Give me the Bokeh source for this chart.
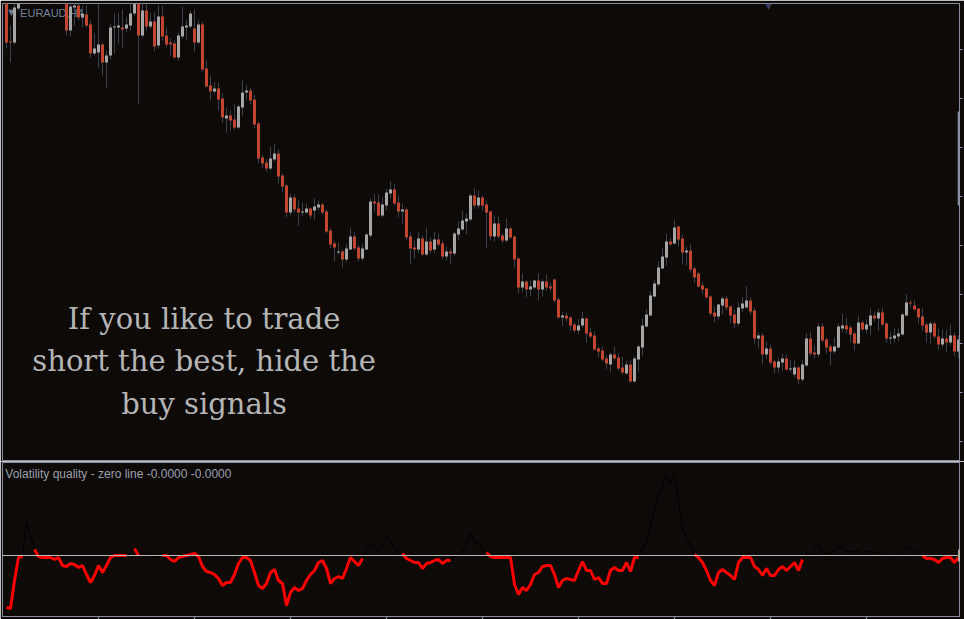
import math
from bokeh.plotting import figure
from bokeh.layouts import column
from bokeh.models import (ColumnDataSource, Range1d, Span, Label, FixedTicker,
                          LinearAxis, BoxAnnotation)
from bokeh.embed import file_html
from bokeh.resources import INLINE

# ---------------- data (EURAUD H4) ----------------
open_ = [
    1.6505, 1.6459, 1.6458, 1.6492, 1.6508, 1.6520, 1.6512, 1.6530, 1.6525, 1.6540,
    1.6530, 1.6518, 1.6528, 1.6515, 1.6522, 1.6505, 1.6470, 1.6493, 1.6495, 1.6483,
    1.6486, 1.6476, 1.6447, 1.6448, 1.6456, 1.6438, 1.6445, 1.6473, 1.6473, 1.6473,
    1.6472, 1.6475, 1.6487, 1.6502, 1.6465, 1.6490, 1.6474, 1.6479, 1.6455, 1.6484,
    1.6465, 1.6458, 1.6457, 1.6443, 1.6464, 1.6473, 1.6474, 1.6472, 1.6458, 1.6476,
    1.6432, 1.6415, 1.6409, 1.6412, 1.6402, 1.6382, 1.6385, 1.6381, 1.6373, 1.6393,
    1.6408, 1.6410, 1.6401, 1.6377, 1.6343, 1.6338, 1.6332, 1.6341, 1.6347, 1.6325,
    1.6315, 1.6288, 1.6303, 1.6292, 1.6288, 1.6288, 1.6292, 1.6290, 1.6293, 1.6296,
    1.6289, 1.6270, 1.6257, 1.6248, 1.6249, 1.6241, 1.6251, 1.6264, 1.6253, 1.6242,
    1.6251, 1.6265, 1.6299, 1.6298, 1.6285, 1.6295, 1.6307, 1.6311, 1.6298, 1.6289,
    1.6291, 1.6264, 1.6253, 1.6251, 1.6262, 1.6246, 1.6259, 1.6251, 1.6261, 1.6257,
    1.6244, 1.6249, 1.6247, 1.6266, 1.6271, 1.6279, 1.6281, 1.6305, 1.6295, 1.6303,
    1.6296, 1.6289, 1.6264, 1.6277, 1.6265, 1.6260, 1.6272, 1.6264, 1.6242, 1.6213,
    1.6219, 1.6211, 1.6213, 1.6220, 1.6211, 1.6219, 1.6214, 1.6221, 1.6201, 1.6183,
    1.6185, 1.6183, 1.6176, 1.6170, 1.6175, 1.6182, 1.6168, 1.6165, 1.6152, 1.6150,
    1.6142, 1.6136, 1.6146, 1.6143, 1.6133, 1.6127, 1.6136, 1.6119, 1.6141, 1.6153,
    1.6174, 1.6185, 1.6204, 1.6216, 1.6232, 1.6243, 1.6259, 1.6257, 1.6274, 1.6262,
    1.6248, 1.6250, 1.6232, 1.6227, 1.6215, 1.6212, 1.6204, 1.6188, 1.6184, 1.6195,
    1.6202, 1.6194, 1.6186, 1.6177, 1.6192, 1.6193, 1.6200, 1.6190, 1.6162, 1.6165,
    1.6146, 1.6152, 1.6139, 1.6133, 1.6138, 1.6142, 1.6131, 1.6126, 1.6133, 1.6121,
    1.6135, 1.6162, 1.6148, 1.6146, 1.6174, 1.6161, 1.6154, 1.6149, 1.6153, 1.6172,
    1.6175, 1.6173, 1.6167, 1.6157, 1.6178, 1.6171, 1.6175, 1.6185, 1.6182, 1.6188,
    1.6177, 1.6162, 1.6162, 1.6164, 1.6166, 1.6185, 1.6198, 1.6195, 1.6192, 1.6184,
    1.6176, 1.6168, 1.6177, 1.6164, 1.6156, 1.6162, 1.6158, 1.6165, 1.6149,
]
high = [
    1.6510, 1.6475, 1.6497, 1.6512, 1.6525, 1.6528, 1.6535, 1.6538, 1.6545, 1.6548,
    1.6534, 1.6532, 1.6533, 1.6526, 1.6526, 1.6508, 1.6502, 1.6500, 1.6498, 1.6495,
    1.6495, 1.6480, 1.6467, 1.6497, 1.6458, 1.6450, 1.6477, 1.6487, 1.6488, 1.6491,
    1.6483, 1.6497, 1.6506, 1.6505, 1.6497, 1.6497, 1.6488, 1.6488, 1.6495, 1.6495,
    1.6473, 1.6462, 1.6460, 1.6468, 1.6494, 1.6480, 1.6490, 1.6491, 1.6481, 1.6479,
    1.6440, 1.6425, 1.6418, 1.6418, 1.6407, 1.6393, 1.6390, 1.6397, 1.6396, 1.6420,
    1.6415, 1.6413, 1.6406, 1.6379, 1.6345, 1.6341, 1.6354, 1.6357, 1.6351, 1.6327,
    1.6317, 1.6307, 1.6306, 1.6300, 1.6298, 1.6297, 1.6293, 1.6302, 1.6300, 1.6298,
    1.6291, 1.6272, 1.6260, 1.6258, 1.6251, 1.6256, 1.6273, 1.6269, 1.6256, 1.6256,
    1.6268, 1.6302, 1.6306, 1.6306, 1.6303, 1.6312, 1.6319, 1.6317, 1.6305, 1.6297,
    1.6293, 1.6269, 1.6260, 1.6268, 1.6265, 1.6273, 1.6263, 1.6269, 1.6267, 1.6260,
    1.6254, 1.6252, 1.6269, 1.6279, 1.6290, 1.6287, 1.6307, 1.6312, 1.6310, 1.6305,
    1.6300, 1.6290, 1.6285, 1.6284, 1.6267, 1.6282, 1.6274, 1.6265, 1.6243, 1.6227,
    1.6220, 1.6220, 1.6221, 1.6227, 1.6221, 1.6226, 1.6217, 1.6222, 1.6203, 1.6189,
    1.6188, 1.6184, 1.6178, 1.6181, 1.6189, 1.6183, 1.6173, 1.6169, 1.6154, 1.6154,
    1.6145, 1.6148, 1.6154, 1.6147, 1.6144, 1.6140, 1.6140, 1.6144, 1.6156, 1.6182,
    1.6191, 1.6209, 1.6221, 1.6239, 1.6252, 1.6267, 1.6263, 1.6281, 1.6275, 1.6266,
    1.6254, 1.6256, 1.6234, 1.6229, 1.6218, 1.6213, 1.6205, 1.6194, 1.6197, 1.6204,
    1.6205, 1.6195, 1.6191, 1.6198, 1.6203, 1.6214, 1.6203, 1.6193, 1.6168, 1.6168,
    1.6159, 1.6156, 1.6141, 1.6143, 1.6147, 1.6146, 1.6140, 1.6140, 1.6134, 1.6141,
    1.6167, 1.6169, 1.6155, 1.6177, 1.6177, 1.6163, 1.6156, 1.6163, 1.6177, 1.6187,
    1.6183, 1.6175, 1.6168, 1.6185, 1.6180, 1.6181, 1.6192, 1.6189, 1.6192, 1.6193,
    1.6178, 1.6168, 1.6172, 1.6172, 1.6188, 1.6206, 1.6200, 1.6200, 1.6192, 1.6192,
    1.6178, 1.6179, 1.6179, 1.6172, 1.6171, 1.6171, 1.6176, 1.6168, 1.6165,
]
low = [
    1.6452, 1.6438, 1.6456, 1.6490, 1.6505, 1.6508, 1.6510, 1.6520, 1.6522, 1.6526,
    1.6514, 1.6512, 1.6510, 1.6510, 1.6500, 1.6465, 1.6464, 1.6475, 1.6480, 1.6473,
    1.6473, 1.6443, 1.6445, 1.6433, 1.6425, 1.6413, 1.6441, 1.6447, 1.6457, 1.6453,
    1.6468, 1.6470, 1.6485, 1.6397, 1.6463, 1.6470, 1.6472, 1.6449, 1.6452, 1.6460,
    1.6453, 1.6445, 1.6442, 1.6440, 1.6462, 1.6460, 1.6472, 1.6449, 1.6456, 1.6429,
    1.6413, 1.6400, 1.6407, 1.6390, 1.6378, 1.6368, 1.6370, 1.6371, 1.6371, 1.6385,
    1.6400, 1.6396, 1.6372, 1.6337, 1.6332, 1.6329, 1.6330, 1.6339, 1.6317, 1.6308,
    1.6283, 1.6285, 1.6288, 1.6275, 1.6284, 1.6287, 1.6282, 1.6281, 1.6290, 1.6286,
    1.6267, 1.6252, 1.6239, 1.6246, 1.6233, 1.6238, 1.6250, 1.6250, 1.6239, 1.6240,
    1.6250, 1.6263, 1.6289, 1.6284, 1.6283, 1.6290, 1.6302, 1.6295, 1.6283, 1.6277,
    1.6260, 1.6236, 1.6242, 1.6247, 1.6244, 1.6244, 1.6247, 1.6247, 1.6254, 1.6241,
    1.6240, 1.6236, 1.6245, 1.6260, 1.6270, 1.6266, 1.6279, 1.6292, 1.6292, 1.6290,
    1.6253, 1.6260, 1.6259, 1.6262, 1.6257, 1.6258, 1.6262, 1.6233, 1.6207, 1.6208,
    1.6203, 1.6204, 1.6211, 1.6200, 1.6204, 1.6210, 1.6209, 1.6198, 1.6182, 1.6175,
    1.6179, 1.6170, 1.6168, 1.6166, 1.6173, 1.6158, 1.6162, 1.6150, 1.6143, 1.6139,
    1.6131, 1.6128, 1.6140, 1.6130, 1.6126, 1.6126, 1.6118, 1.6118, 1.6129, 1.6145,
    1.6173, 1.6184, 1.6203, 1.6214, 1.6231, 1.6235, 1.6255, 1.6256, 1.6254, 1.6236,
    1.6235, 1.6228, 1.6218, 1.6213, 1.6206, 1.6202, 1.6185, 1.6178, 1.6181, 1.6186,
    1.6190, 1.6177, 1.6172, 1.6174, 1.6188, 1.6192, 1.6186, 1.6157, 1.6152, 1.6136,
    1.6142, 1.6136, 1.6127, 1.6128, 1.6130, 1.6130, 1.6128, 1.6123, 1.6116, 1.6119,
    1.6134, 1.6145, 1.6142, 1.6143, 1.6158, 1.6147, 1.6135, 1.6147, 1.6152, 1.6168,
    1.6167, 1.6158, 1.6150, 1.6156, 1.6170, 1.6167, 1.6165, 1.6179, 1.6170, 1.6174,
    1.6158, 1.6156, 1.6158, 1.6159, 1.6165, 1.6184, 1.6193, 1.6190, 1.6177, 1.6170,
    1.6158, 1.6157, 1.6162, 1.6151, 1.6153, 1.6148, 1.6155, 1.6144, 1.6142,
]
close = [
    1.6458, 1.6458, 1.6493, 1.6508, 1.6520, 1.6512, 1.6530, 1.6525, 1.6540, 1.6530,
    1.6518, 1.6528, 1.6515, 1.6522, 1.6505, 1.6470, 1.6494, 1.6495, 1.6483, 1.6487,
    1.6475, 1.6447, 1.6452, 1.6456, 1.6438, 1.6445, 1.6473, 1.6474, 1.6475, 1.6471,
    1.6476, 1.6487, 1.6502, 1.6465, 1.6490, 1.6474, 1.6479, 1.6454, 1.6484, 1.6464,
    1.6456, 1.6456, 1.6443, 1.6465, 1.6474, 1.6475, 1.6487, 1.6458, 1.6476, 1.6431,
    1.6414, 1.6409, 1.6412, 1.6401, 1.6383, 1.6385, 1.6380, 1.6373, 1.6394, 1.6408,
    1.6410, 1.6400, 1.6376, 1.6342, 1.6337, 1.6332, 1.6342, 1.6347, 1.6324, 1.6314,
    1.6288, 1.6303, 1.6291, 1.6288, 1.6289, 1.6292, 1.6285, 1.6294, 1.6296, 1.6288,
    1.6269, 1.6256, 1.6253, 1.6249, 1.6241, 1.6252, 1.6264, 1.6252, 1.6242, 1.6252,
    1.6266, 1.6299, 1.6297, 1.6285, 1.6296, 1.6308, 1.6311, 1.6297, 1.6289, 1.6291,
    1.6263, 1.6252, 1.6251, 1.6262, 1.6246, 1.6259, 1.6250, 1.6261, 1.6256, 1.6244,
    1.6249, 1.6247, 1.6267, 1.6272, 1.6280, 1.6282, 1.6305, 1.6295, 1.6303, 1.6295,
    1.6288, 1.6264, 1.6277, 1.6264, 1.6260, 1.6272, 1.6263, 1.6241, 1.6213, 1.6219,
    1.6211, 1.6214, 1.6220, 1.6211, 1.6219, 1.6213, 1.6212, 1.6200, 1.6183, 1.6185,
    1.6182, 1.6175, 1.6170, 1.6175, 1.6182, 1.6167, 1.6164, 1.6151, 1.6149, 1.6141,
    1.6137, 1.6146, 1.6142, 1.6132, 1.6128, 1.6136, 1.6119, 1.6142, 1.6154, 1.6175,
    1.6186, 1.6205, 1.6217, 1.6233, 1.6244, 1.6259, 1.6256, 1.6273, 1.6261, 1.6248,
    1.6250, 1.6231, 1.6223, 1.6214, 1.6211, 1.6203, 1.6187, 1.6184, 1.6196, 1.6202,
    1.6193, 1.6185, 1.6177, 1.6193, 1.6197, 1.6200, 1.6189, 1.6162, 1.6165, 1.6146,
    1.6152, 1.6138, 1.6133, 1.6139, 1.6142, 1.6131, 1.6132, 1.6133, 1.6121, 1.6136,
    1.6162, 1.6147, 1.6146, 1.6174, 1.6160, 1.6153, 1.6149, 1.6154, 1.6174, 1.6175,
    1.6171, 1.6166, 1.6157, 1.6178, 1.6171, 1.6176, 1.6185, 1.6182, 1.6188, 1.6176,
    1.6162, 1.6163, 1.6165, 1.6167, 1.6186, 1.6198, 1.6197, 1.6191, 1.6183, 1.6175,
    1.6168, 1.6177, 1.6164, 1.6156, 1.6162, 1.6158, 1.6165, 1.6149, 1.6161,
]

# Volatility quality indicator values
vq = [
    -0.0052, -0.0053, -0.0025, -0.0002, -0.0001, 0.0033, 0.0020, 0.0006, -0.0001, -0.0002,
    -0.0002, -0.0002, -0.0004, -0.0002, -0.0010, -0.0011, -0.0008, -0.0009, -0.0012, -0.0010,
    -0.0019, -0.0027, -0.0020, -0.0010, -0.0017, -0.0010, -0.0002, 0.0000, 0.0000, 0.0000,
    0.0000, 0.0002, 0.0007, 0.0000, 0.0003, 0.0002, 0.0000, -0.0001, -0.0001, 0.0000,
    0.0000, -0.0004, -0.0006, -0.0002, -0.0001, 0.0000, 0.0001, 0.0002, -0.0001, -0.0011,
    -0.0016, -0.0017, -0.0019, -0.0023, -0.0030, -0.0027, -0.0027, -0.0019, -0.0008, -0.0002,
    -0.0002, -0.0005, -0.0017, -0.0030, -0.0033, -0.0028, -0.0017, -0.0014, -0.0025, -0.0028,
    -0.0050, -0.0037, -0.0032, -0.0035, -0.0033, -0.0025, -0.0019, -0.0015, -0.0007, -0.0005,
    -0.0013, -0.0028, -0.0023, -0.0021, -0.0023, -0.0013, -0.0002, -0.0006, -0.0010, -0.0003,
    0.0007, 0.0013, 0.0009, 0.0003, 0.0011, 0.0019, 0.0015, 0.0008, 0.0003, 0.0002,
    -0.0003, -0.0005, -0.0007, -0.0007, -0.0013, -0.0008, -0.0007, -0.0005, -0.0004, -0.0008,
    -0.0005, -0.0005, -0.0001, 0.0001, 0.0003, 0.0012, 0.0022, 0.0013, 0.0012, 0.0006,
    0.0003, -0.0001, -0.0002, -0.0002, -0.0002, -0.0002, -0.0002, -0.0029, -0.0039, -0.0032,
    -0.0035, -0.0029, -0.0019, -0.0017, -0.0011, -0.0010, -0.0010, -0.0019, -0.0032, -0.0025,
    -0.0023, -0.0024, -0.0025, -0.0015, -0.0006, -0.0015, -0.0015, -0.0024, -0.0022, -0.0028,
    -0.0028, -0.0015, -0.0012, -0.0015, -0.0015, -0.0007, -0.0016, -0.0002, -0.0002, 0.0007,
    0.0014, 0.0030, 0.0047, 0.0062, 0.0070, 0.0081, 0.0072, 0.0085, 0.0055, 0.0027,
    0.0018, 0.0009, 0.0001, -0.0002, -0.0007, -0.0015, -0.0025, -0.0030, -0.0017, -0.0014,
    -0.0017, -0.0020, -0.0024, -0.0007, -0.0002, -0.0002, -0.0002, -0.0011, -0.0014, -0.0020,
    -0.0013, -0.0020, -0.0020, -0.0014, -0.0011, -0.0015, -0.0011, -0.0007, -0.0015, -0.0004,
    0.0003, 0.0001, 0.0007, 0.0012, 0.0002, 0.0002, 0.0002, 0.0005, 0.0009, 0.0008,
    0.0005, 0.0003, 0.0004, 0.0004, 0.0001, 0.0004, 0.0004, 0.0003, 0.0003, 0.0000,
    0.0000, 0.0000, 0.0000, 0.0000, 0.0004, 0.0008, 0.0007, 0.0005, 0.0002, 0.0000,
    -0.0003, -0.0003, -0.0004, -0.0007, -0.0003, -0.0002, -0.0002, -0.0007, -0.0002,
]
# bar ranges (first, last) in which the indicator is drawn in red
red_ranges = [(0, 4), (7, 30), (32, 33), (39, 89), (99, 111), (120, 158), (172, 199), (229, 238)]

time_ticks = [23, 47, 71, 95, 119, 143, 167, 191, 215]
price_ticks = [1.6451, 1.6402, 1.6353, 1.6304, 1.6255, 1.6206, 1.6157, 1.6108, 1.6059]

# ---------------- styling ----------------
BG = "#0d0a08"
FRAME = "#8a8fa0"
WICK = "#3a404d"
UP = "#a6a6a6"
DOWN = "#c2452f"
W = 964

idx = list(range(len(close)))
top = [max(o, c) for o, c in zip(open_, close)]
bot = [min(o, c) for o, c in zip(open_, close)]
col = [UP if c >= o else DOWN for o, c in zip(open_, close)]
src = ColumnDataSource(dict(x=idx, open=open_, high=high, low=low, close=close,
                            top=top, bottom=bot, color=col))

xr = Range1d(-1.0, 238.25)

main = figure(width=W, height=461, x_range=xr, y_range=Range1d(1.6040, 1.6497),
              output_backend="svg", toolbar_location=None,
              x_axis_location=None, y_axis_location=None,
              min_border_left=2, min_border_right=5, min_border_top=3, min_border_bottom=1,
              background_fill_color=BG, border_fill_color=BG,
              outline_line_color=FRAME, outline_line_width=1)
main.grid.visible = False

rax = LinearAxis(ticker=FixedTicker(ticks=price_ticks),
                 major_label_overrides={t: "" for t in price_ticks},
                 major_label_text_font_size="0px", major_label_standoff=0,
                 major_tick_out=3, major_tick_in=0, minor_tick_out=0, minor_tick_in=0,
                 axis_line_color=FRAME, major_tick_line_color=FRAME)
main.add_layout(rax, "right")

# symbol label, drawn beneath the candles
main.add_layout(Label(x=1.2, y=1.6488, text="▼", text_color="#6f7b92",
                      text_font="DejaVu Sans", text_font_size="8px",
                      text_baseline="middle", text_align="center", level="underlay"))
main.add_layout(Label(x=3.4, y=1.6488, text="EURAUD,H4", text_color="#74819a",
                      text_font="Liberation Sans", text_font_size="11px",
                      text_baseline="middle", level="underlay"))

main.segment(x0="x", y0="low", x1="x", y1="high", source=src, line_color=WICK, line_width=1)
main.vbar(x="x", width=0.75, top="top", bottom="bottom", source=src,
          fill_color="color", line_color=None)

for txt, yy in zip(["If you like to trade", "short the best, hide the", "buy signals"],
                   [1.6182, 1.6140, 1.6097]):
    main.add_layout(Label(x=49.4, y=yy, text=txt, text_align="center", text_baseline="middle",
                          text_color="#b5b5b5", text_font="DejaVu Serif", text_font_size="29px"))

main.add_layout(Label(x=190.5, y=1.6494, text="▼", text_color="#3a4160",
                      text_font="DejaVu Sans", text_font_size="8px",
                      text_baseline="middle", text_align="center"))
main.add_layout(BoxAnnotation(left=237.8, right=238.8, top=1.6389, bottom=1.6295,
                              fill_color="#8a90a2", fill_alpha=1.0, line_color=None))

# ---------------- indicator ----------------
ind = figure(width=W, height=158, x_range=xr, y_range=Range1d(-0.0061, 0.0093),
             output_backend="svg", toolbar_location=None,
             x_axis_location=None, y_axis_location=None,
             min_border_left=2, min_border_right=5, min_border_top=1, min_border_bottom=3,
             background_fill_color=BG, border_fill_color=BG,
             outline_line_color=FRAME, outline_line_width=1)
ind.grid.visible = False
bax = LinearAxis(ticker=FixedTicker(ticks=time_ticks),
                 major_label_overrides={t: "" for t in time_ticks},
                 major_label_text_font_size="0px", major_label_standoff=0,
                 major_tick_out=3, major_tick_in=0, minor_tick_out=0, minor_tick_in=0,
                 axis_line_color=FRAME, major_tick_line_color=FRAME)
ind.add_layout(bax, "below")

is_red = [False] * len(vq)
is_edge = [False] * len(vq)
for a, b in red_ranges:
    for k in range(a, b + 1):
        is_red[k] = True
    is_edge[a] = True
    is_edge[b] = True
nan = float("nan")
red_y = [v if r else nan for v, r in zip(vq, is_red)]
blk_y = [v if (not r or e) else nan for v, r, e in zip(vq, is_red, is_edge)]

ind.add_layout(Span(location=0, dimension="width", line_color="#b8b8b8", line_width=1))
ind.line(idx, blk_y, line_color="#000000", line_width=1)
ind.line(idx, red_y, line_color="#ff0000", line_width=3)

# zero-level marker at the right edge
ind.add_layout(BoxAnnotation(left=237.9, right=239.6, top=0.0006, bottom=-0.0006,
                             fill_color="#cfc8b8", fill_alpha=1.0,
                             line_color="#4a4a4a", line_width=1))

ind.add_layout(Label(x=-0.3, y=0.0082, text="Volatility quality - zero line -0.0000 -0.0000",
                     text_color="#9ba0ad", text_font="Liberation Sans", text_font_size="12px",
                     text_baseline="middle"))

layout = column(main, ind, spacing=0)
open("out.html", "w").write(file_html(layout, INLINE))
